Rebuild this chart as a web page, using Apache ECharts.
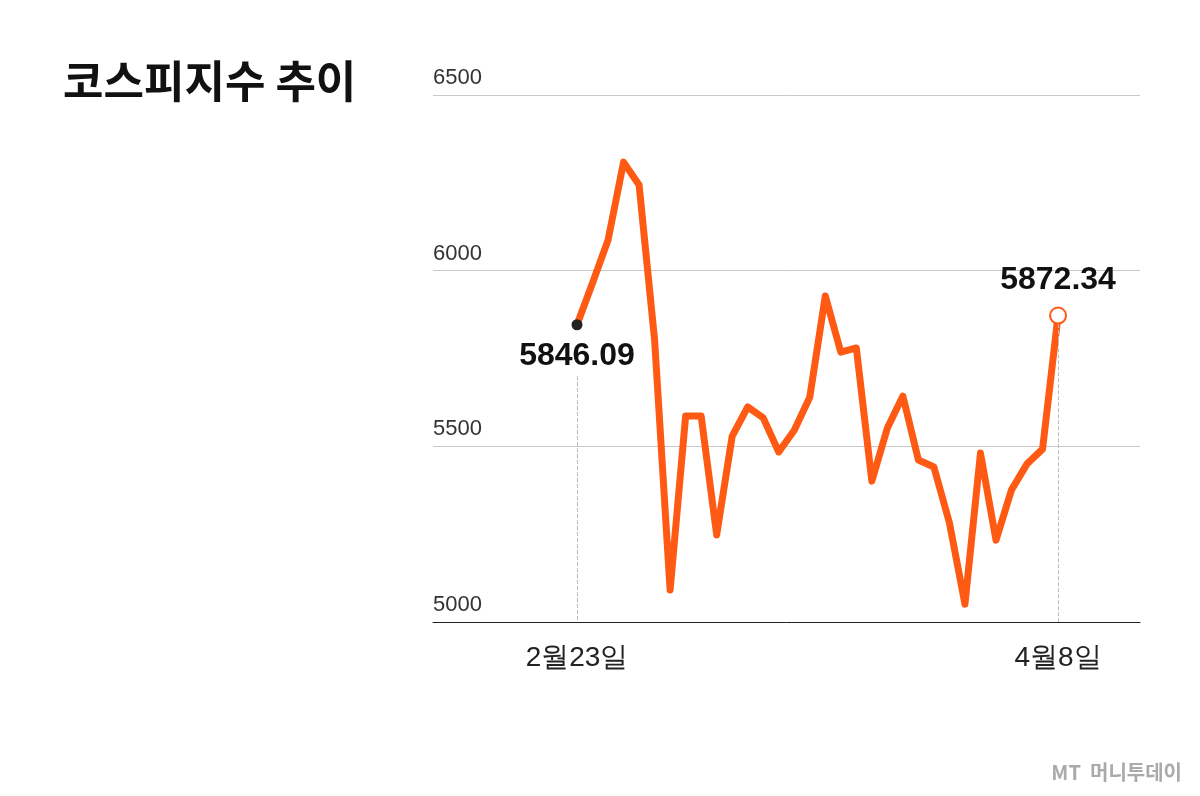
<!DOCTYPE html>
<html><head><meta charset="utf-8">
<script src="https://cdn.jsdelivr.net/npm/echarts@6/dist/echarts.min.js"></script>
<style>body{margin:0;background:#fff}#c{width:1200px;height:796px}</style></head>
<body><div id="c"></div>
<script>
const dates = ["2월23일","2월24일","2월25일","2월26일","2월27일","3월3일","3월4일","3월5일","3월6일","3월9일","3월10일","3월11일","3월12일","3월13일","3월16일","3월17일","3월18일","3월19일","3월20일","3월23일","3월24일","3월25일","3월26일","3월27일","3월30일","3월31일","4월1일","4월2일","4월3일","4월6일","4월7일","4월8일"];
const values = [5846.09,5965,6087,6309,6244,5803,5091,5586,5586,5248,5529,5612,5581,5484,5546,5640,5928,5768,5780,5401,5552,5643,5461,5441,5282,5051,5481,5233,5376,5450,5492,5872.34];
const yTicks = [5000,5500,6000,6500];
const last = values.length - 1;
const font = "'Liberation Sans',sans-serif";
const data = values.map((v,i)=>{
  const d = {value:[i,v]};
  if(i===0){d.symbol='circle';d.symbolSize=11;d.itemStyle={color:'#222',borderColor:'#222',borderWidth:0};
    d.label={show:true,position:'bottom',distance:10,formatter:'5846.09'};}
  else if(i===last){d.symbol='circle';d.symbolSize=16;d.itemStyle={color:'#fff',borderColor:'#ff5a14',borderWidth:2};
    d.label={show:true,position:'top',distance:10,formatter:'5872.34'};}
  else {d.symbol='none';}
  return d;
});
const chart = echarts.init(document.getElementById('c'));
chart.setOption({
  animation:false,
  title:{text:'코스피지수 추이',left:58,top:54,textStyle:{fontFamily:"'Noto Sans CJK KR',sans-serif",fontWeight:'bold',fontSize:44,color:'#111'}},
  graphic:[{type:'text',right:18,bottom:14,style:{text:'MT  머니투데이',fill:'#aaa',font:"bold 20px 'Noto Sans CJK KR',sans-serif"}}],
  grid:{left:433,right:60,top:95,bottom:174},
  xAxis:{type:'value',min:-9.28,max:36.28,splitLine:{show:false},
    axisLine:{show:true,onZero:false,lineStyle:{color:'#222',width:1}},axisTick:{show:false},
    axisLabel:{customValues:[0,last],formatter:v=>dates[Math.round(v)],fontFamily:font,fontSize:28,color:'#222',margin:22}},
  yAxis:{type:'value',min:yTicks[0],max:yTicks[3],interval:500,
    axisLine:{show:false},axisTick:{show:false},
    splitLine:{lineStyle:{color:'#c8c8c8',width:1}},
    axisLabel:{inside:true,verticalAlign:'bottom',margin:0,formatter:v=>String(v),fontFamily:font,fontSize:22,color:'#333',padding:[0,0,6,0]}},
  series:[{type:'line',data:data,lineStyle:{color:'#ff5a14',width:7,join:'round'},itemStyle:{color:'#ff5a14'},
    label:{fontFamily:font,fontWeight:'bold',fontSize:32,color:'#111',letterSpacing:-1},
    markLine:{silent:true,symbol:'none',label:{show:false},lineStyle:{color:'#bbb',type:'dashed',width:1},
      data:[[{coord:[0,5700]},{coord:[0,5000]}],[{coord:[last,values[last]-25]},{coord:[last,5000]}]]}}]
});
</script></body></html>
